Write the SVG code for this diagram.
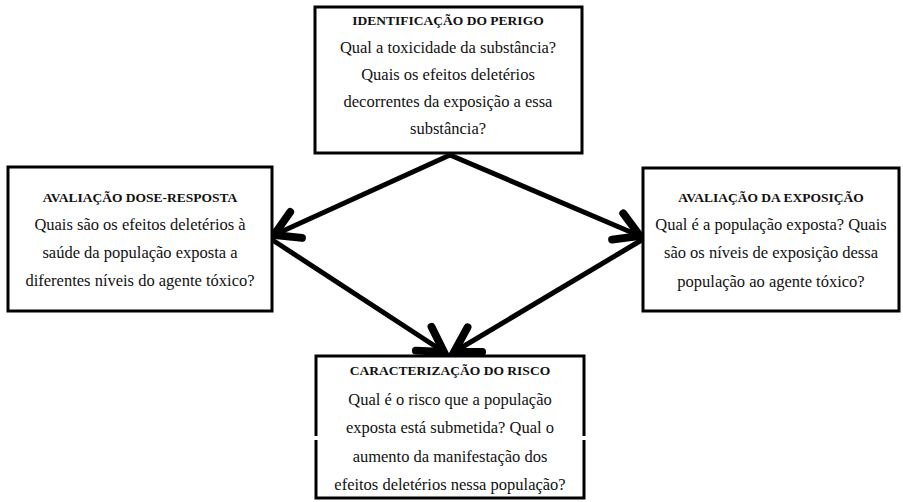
<svg xmlns="http://www.w3.org/2000/svg" width="903" height="502" viewBox="0 0 903 502">
<defs>
<style>
.box{fill:#fff;stroke:#000;stroke-width:3}
.t{font-family:"Liberation Serif","Times New Roman",serif;font-size:13.5px;font-weight:bold;fill:#111;text-anchor:middle}
.b{font-family:"Liberation Serif","Times New Roman",serif;font-size:16.5px;fill:#111;text-anchor:middle}
.c{fill:none;stroke:#000;stroke-width:5;stroke-linecap:round}
</style>
<marker id="ah" markerUnits="userSpaceOnUse" markerWidth="40" markerHeight="40" viewBox="-24 -14 28 28" refX="0" refY="0" orient="auto">
<path d="M -17 -10 L 0 0 L -17 10" fill="none" stroke="#000" stroke-width="5.5" stroke-linejoin="miter" stroke-linecap="round"/>
</marker>
</defs>
<rect width="903" height="502" fill="#fff"/>
<g id="connectors">
<line class="c" x1="450" y1="155" x2="274" y2="235" marker-end="url(#ah)"/>
<line class="c" x1="450" y1="155" x2="640" y2="236" marker-end="url(#ah)"/>
<line class="c" x1="274" y1="241" x2="444" y2="352" marker-end="url(#ah)"/>
<line class="c" x1="640" y1="241" x2="454" y2="352" marker-end="url(#ah)"/>
</g>
<g id="identificacao">
<rect class="box" x="315" y="7" width="267" height="146"/>
<text class="t" x="448" y="25">IDENTIFICAÇÃO DO PERIGO</text>
<text class="b" x="448" y="53">Qual a toxicidade da substância?</text>
<text class="b" x="448" y="80">Quais os efeitos deletérios</text>
<text class="b" x="448" y="107">decorrentes da exposição a essa</text>
<text class="b" x="448" y="134">substância?</text>
</g>
<g id="dose-resposta">
<rect class="box" x="8" y="167" width="264" height="144"/>
<text class="t" x="140" y="202">AVALIAÇÃO DOSE-RESPOSTA</text>
<text class="b" x="140" y="230">Quais são os efeitos deletérios à</text>
<text class="b" x="140" y="258">saúde da população exposta a</text>
<text class="b" x="140" y="286">diferentes níveis do agente tóxico?</text>
</g>
<g id="exposicao">
<rect class="box" x="643" y="168" width="256" height="143"/>
<text class="t" x="771" y="202">AVALIAÇÃO DA EXPOSIÇÃO</text>
<text class="b" x="771" y="230">Qual é a população exposta? Quais</text>
<text class="b" x="771" y="258">são os níveis de exposição dessa</text>
<text class="b" x="771" y="287">população ao agente tóxico?</text>
</g>
<g id="caracterizacao">
<rect class="box" x="316" y="356" width="268" height="142"/>
<rect x="312" y="436" width="6" height="4" fill="#fff"/>
<rect x="582" y="436" width="6" height="4" fill="#fff"/>
<text class="t" x="450" y="375">CARACTERIZAÇÃO DO RISCO</text>
<text class="b" x="450" y="405">Qual é o risco que a população</text>
<text class="b" x="450" y="433">exposta está submetida? Qual o</text>
<text class="b" x="450" y="462">aumento da manifestação dos</text>
<text class="b" x="450" y="490">efeitos deletérios nessa população?</text>
</g>
</svg>
